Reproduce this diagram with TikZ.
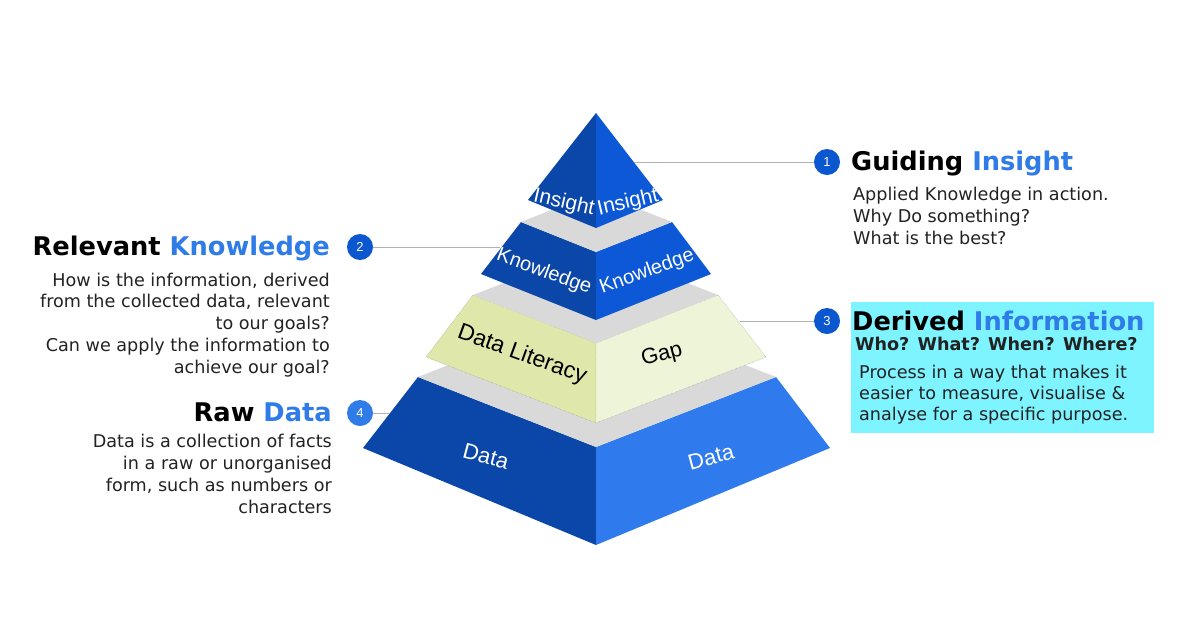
\documentclass[tikz,border=0pt]{standalone}
\usepackage{fontspec}
\setmainfont{DejaVu Sans}
\newfontfamily\facefont{Liberation Sans}

\definecolor{faceDark}{HTML}{0A47A8}
\definecolor{faceMid}{HTML}{0C58D6}
\definecolor{faceLight}{HTML}{2F7BEE}
\definecolor{litLeft}{HTML}{DFE7AA}
\definecolor{litRight}{HTML}{EEF4D8}
\definecolor{topGray}{HTML}{D9D9D9}
\definecolor{accentBlue}{HTML}{2F7BE8}
\definecolor{badgeBlue}{HTML}{0B57D0}
\definecolor{infoCyan}{HTML}{7DF4FF}
\definecolor{bodyGray}{HTML}{222222}

\tikzset{
	badge/.style={circle, fill=badgeBlue, text=white, minimum size=26pt, inner sep=0pt,
		font=\fontsize{13}{13}\selectfont\facefont},
	leader/.style={draw=black!30, line width=0.7pt},
	facelabel/.style={text=white, inner sep=0pt, font=\fontsize{20}{20}\selectfont\facefont},
	heading/.style={inner sep=0pt, font=\fontsize{25.7}{25.7}\selectfont\bfseries},
	bodytext/.style={inner sep=0pt, text=bodyGray, font=\fontsize{17.6}{21.7}\selectfont}
}

\begin{document}
\begin{tikzpicture}[x=1pt,y=-1pt]
	\useasboundingbox (0,0) rectangle (1200,630);
	
	% ---- Data tier ----
	\fill[faceDark] (363,448) -- (418,377) -- (596,447) -- (596,545) -- cycle;
	\fill[faceLight] (596,447) -- (776,377) -- (830,448) -- (596,545) -- cycle;
	\fill[topGray] (418,377) -- (596,307) -- (776,377) -- (596,447) -- cycle;
	
	% ---- Data Literacy tier ----
	\filldraw[fill=litLeft, draw=black!45, densely dotted, line width=0.4pt]
		(426,357) -- (473,295) -- (596,343) -- (596,423) -- cycle;
	\filldraw[fill=litRight, draw=black!45, densely dotted, line width=0.4pt]
		(596,343) -- (718,295) -- (766,357) -- (596,423) -- cycle;
	\fill[topGray] (473,295) -- (596,247) -- (718,295) -- (596,343) -- cycle;
	
	% ---- Knowledge tier ----
	\fill[faceDark] (481,274) -- (521,222) -- (596,252) -- (596,320) -- cycle;
	\fill[faceMid] (596,252) -- (672,222) -- (711,274) -- (596,320) -- cycle;
	\fill[topGray] (521,222) -- (596,192) -- (672,222) -- (596,252) -- cycle;
	
	% ---- Insight tier ----
	\fill[faceDark] (596,113) -- (528,200) -- (596,228) -- cycle;
	\fill[faceMid] (596,113) -- (663,200) -- (596,228) -- cycle;
	
	% ---- Face labels ----
	\node[facelabel, font=\fontsize{21}{21}\selectfont\facefont, rotate=-13] (insL) at (564,203) {Insight};
	\node[facelabel, font=\fontsize{21}{21}\selectfont\facefont, rotate=13] (insR) at (628,203) {Insight};
	\node[facelabel, rotate=-20] (knoL) at (544,272) {Knowledge};
	\node[facelabel, rotate=20] (knoR) at (647,272) {Knowledge};
	\node[facelabel, text=black, font=\fontsize{23}{23}\selectfont\facefont, rotate=-20] (litL) at (522,355) {Data Literacy};
	\node[facelabel, text=black, font=\fontsize{22}{22}\selectfont\facefont, rotate=15] (litR) at (662,355) {Gap};
	\node[facelabel, font=\fontsize{22}{22}\selectfont\facefont, rotate=-15] (datL) at (486,456) {Data};
	\node[facelabel, font=\fontsize{22}{22}\selectfont\facefont, rotate=15] (datR) at (711,457) {Data};
	
	% ---- Badges and leaders ----
	\coordinate (p1) at (634,162);
	\coordinate (p2) at (500,247);
	\coordinate (p3) at (740,321);
	\coordinate (p4) at (390,413);
	\node[badge] (b1) at (827,162) {1};
	\node[badge] (b2) at (360,247) {2};
	\node[badge] (b3) at (827,321) {3};
	\node[badge, fill=accentBlue] (b4) at (360,413) {4};
	\draw[leader] (b1) -- (p1);
	\draw[leader] (b2) -- (p2);
	\draw[leader] (b3) -- (p3);
	\draw[leader] (b4) -- (p4);
	
	% ---- Guiding Insight ----
	\node[heading, anchor=base west] (t1) at (851,170) {Guiding \textcolor{accentBlue}{Insight}};
	\node[bodytext, anchor=base west, align=left] (d1) at (853,244)
		{Applied Knowledge in action.\\Why Do something?\\What is the best?};
	
	% ---- Relevant Knowledge ----
	\node[heading, anchor=base east] (t2) at (330,255) {Relevant \textcolor{accentBlue}{Knowledge}};
	\node[bodytext, anchor=base east, align=right] (d2) at (330,373)
		{How is the information, derived\\from the collected data, relevant\\to our goals?\\Can we apply the information to\\achieve our goal?};
	
	% ---- Derived Information ----
	\fill[infoCyan] (851,302) rectangle (1154,433);
	\node[heading, anchor=base west] (t3) at (852,330) {Derived \textcolor{accentBlue}{Information}};
	\node[inner sep=0pt, anchor=base west, text=bodyGray, font=\fontsize{17.6}{17.6}\selectfont\bfseries] (q3) at (855,350)
		{Who? What? When? Where?};
	\node[bodytext, anchor=base west, align=left, font=\fontsize{17.6}{21}\selectfont] (d3) at (859,420)
		{Process in a way that makes it\\easier to measure, visualise \&\\analyse for a specific purpose.};
	
	% ---- Raw Data ----
	\node[heading, anchor=base east] (t4) at (332,421) {Raw \textcolor{accentBlue}{Data}};
	\node[bodytext, anchor=base east, align=right] (d4) at (332,513)
		{Data is a collection of facts\\in a raw or unorganised\\form, such as numbers or\\characters};
	
\end{tikzpicture}
\end{document}
